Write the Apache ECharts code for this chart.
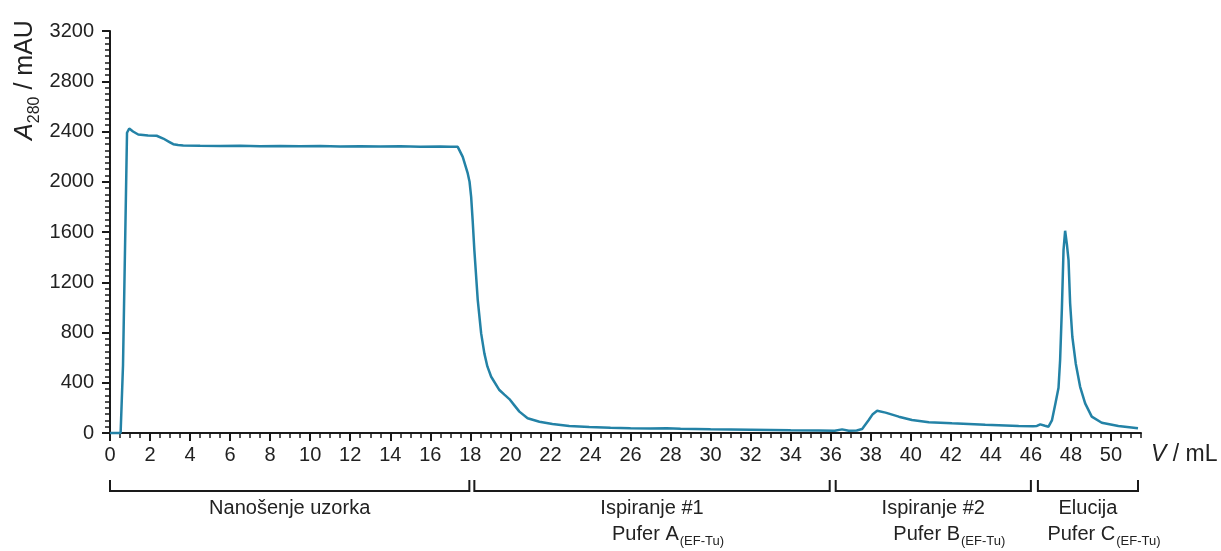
<!DOCTYPE html>
<html>
<head>
<meta charset="utf-8">
<script src="https://cdn.jsdelivr.net/npm/echarts@6/dist/echarts.min.js"></script>
<style>
html,body{margin:0;padding:0;background:#fff;}
#chart{width:1221px;height:551px;}
</style>
</head>
<body>
<div id="chart"></div>
<script>
// ---- data ----
const volume = [0, 0.53, 0.65, 0.85, 0.96, 1.15, 1.41, 1.9, 2.33, 2.66, 2.95, 3.16, 3.4, 3.66, 4.5, 5.5, 6.5, 7.5, 8.5, 9.5, 10.5, 11.5, 12.5, 13.5, 14.5, 15.5, 16.5, 17.0, 17.37, 17.62, 17.87, 17.96, 18.04, 18.12, 18.2, 18.37, 18.54, 18.7, 18.85, 19.04, 19.45, 19.7, 19.95, 20.2, 20.45, 20.86, 21.45, 22.1, 22.94, 23.94, 25, 26, 27, 27.8, 28.5, 30, 32, 34, 35.4, 36.2, 36.57, 36.9, 37.3, 37.57, 37.9, 38.1, 38.32, 38.74, 39.4, 40.06, 40.9, 42.06, 43.72, 45.39, 46.1, 46.3, 46.47, 46.7, 46.88, 47.05, 47.22, 47.38, 47.46, 47.55, 47.63, 47.71, 47.8, 47.88, 47.96, 48.07, 48.24, 48.46, 48.71, 49.04, 49.54, 50.37, 51.35];
const a280 = [0, 0, 540, 2390, 2424, 2400, 2376, 2368, 2366, 2344, 2318, 2299, 2292, 2289, 2286, 2284, 2287, 2283, 2285, 2282, 2284, 2281, 2283, 2280, 2282, 2279, 2280, 2278, 2278, 2198, 2066, 2000, 1880, 1680, 1456, 1058, 793, 634, 530, 448, 342, 305, 270, 220, 170, 117, 90, 72, 56, 48, 42, 38, 36, 38, 34, 30, 26, 22, 20, 18, 29, 18, 20, 32, 103, 150, 177, 162, 130, 103, 85, 77, 66, 56, 54, 56, 69, 58, 50, 100, 230, 360, 581, 1000, 1456, 1610, 1500, 1376, 1032, 766, 554, 368, 236, 130, 82, 56, 37];
const xMajorTicks = [0,2,4,6,8,10,12,14,16,18,20,22,24,26,28,30,32,34,36,38,40,42,44,46,48,50];
const phaseStart = [0, 18.2, 36.25, 46.35];
const phaseEnd = [17.95, 35.95, 46.0, 51.35];
const phaseNames = ['Nanošenje uzorka', 'Ispiranje #1', 'Ispiranje #2', 'Elucija'];
const bufferNames = ['', 'Pufer A', 'Pufer B', 'Pufer C'];
const bufferSub = '(EF-Tu)';

const FONT = "'Liberation Sans', Arial, Helvetica, sans-serif";
const AX = '#1a1a1a';
const TXT = '#222';
const chart = echarts.init(document.getElementById('chart'));

const option = {
  animation: false,
  backgroundColor: '#fff',
  grid: { left: 110, right: 80, top: 31, bottom: 118, containLabel: false },
  xAxis: [
    {
      type: 'value', min: 0, max: 51.5, interval: 2,
      axisLine: { show: true, onZero: false, lineStyle: { color: AX, width: 2 } },
      axisTick: { show: true, customValues: xMajorTicks, length: 8, lineStyle: { color: AX, width: 2 } },
      axisLabel: { customValues: xMajorTicks, fontSize: 20, color: TXT, fontFamily: FONT, margin: 12,
                   formatter: v => String(v) },
      splitLine: { show: false }
    },
    {
      type: 'value', min: 0, max: 51.5, interval: 0.5, position: 'bottom',
      axisLine: { show: false },
      axisTick: { show: true, length: 5, lineStyle: { color: AX, width: 1.5 } },
      axisLabel: { show: false },
      splitLine: { show: false }
    }
  ],
  yAxis: {
    type: 'value', min: 0, max: 3200, interval: 400,
    axisLine: { show: true, lineStyle: { color: AX, width: 2 } },
    axisTick: { show: true, length: 8, lineStyle: { color: AX, width: 2 } },
    minorTick: { show: true, splitNumber: 8, length: 5, lineStyle: { color: AX, width: 1.5 } },
    axisLabel: { fontSize: 20, color: TXT, fontFamily: FONT, margin: 16, formatter: v => String(v) },
    splitLine: { show: false }
  },
  graphic: [
    {
      type: 'text', x: 13, y: 80, rotation: Math.PI / 2,
      style: {
        text: '{a|A}{s|280}{b| / mAU}',
        textAlign: 'center', textVerticalAlign: 'top',
        fontFamily: FONT, fill: TXT,
        rich: {
          a: { fontSize: 25, fontStyle: 'italic', height: 24, verticalAlign: 'top', fontFamily: FONT, fill: TXT },
          s: { fontSize: 16, height: 16, padding: [14, 0, 0, 0], verticalAlign: 'top', fontFamily: FONT, fill: TXT },
          b: { fontSize: 25, height: 24, verticalAlign: 'top', fontFamily: FONT, fill: TXT }
        }
      }
    },
    {
      type: 'text', x: 1151, y: 455,
      style: {
        text: '{v|V}{b| / mL}',
        textAlign: 'left', textVerticalAlign: 'middle',
        fontFamily: FONT, fill: TXT,
        rich: {
          v: { fontSize: 23, fontStyle: 'italic', fontFamily: FONT, fill: TXT },
          b: { fontSize: 23, fontFamily: FONT, fill: TXT }
        }
      }
    }
  ],
  series: [
    {
      type: 'line',
      data: volume.map((v, i) => [v, a280[i]]),
      showSymbol: false,
      symbol: 'none',
      lineStyle: { color: '#2382a6', width: 2.5 },
      itemStyle: { color: '#2382a6' },
      clip: false,
      z: 5
    },
    {
      type: 'custom',
      clip: false,
      silent: true,
      data: phaseStart.map((s, i) => [s, phaseEnd[i], i]),
      encode: { x: [0, 1] },
      renderItem: function (params, api) {
        const i = api.value(2);
        const p1 = api.coord([api.value(0), 0]);
        const p2 = api.coord([api.value(1), 0]);
        const yb = p1[1] + 58;
        const h = 11;
        const cx = (p1[0] + p2[0]) / 2;
        const children = [
          {
            type: 'polyline',
            shape: { points: [[p1[0], yb - h], [p1[0], yb], [p2[0], yb], [p2[0], yb - h]] },
            style: { stroke: AX, lineWidth: 2, fill: null }
          },
          {
            type: 'text',
            x: cx, y: yb + 17,
            style: { text: phaseNames[i], fontSize: 20, fontFamily: FONT, fill: TXT, textAlign: 'center', textVerticalAlign: 'middle' }
          }
        ];
        if (bufferNames[i]) {
          children.push({
            type: 'text',
            x: cx + 16, y: yb + 33,
            style: {
              text: '{a|' + bufferNames[i] + '}{s|' + bufferSub + '}',
              textAlign: 'center', textVerticalAlign: 'top',
              fontFamily: FONT, fill: TXT,
              rich: {
                a: { fontSize: 20, height: 20, verticalAlign: 'top', fontFamily: FONT, fill: TXT },
                s: { fontSize: 13, height: 13, padding: [11, 0, 0, 1], verticalAlign: 'top', fontFamily: FONT, fill: TXT }
              }
            }
          });
        }
        return { type: 'group', children: children };
      },
      z: 3
    }
  ]
};
chart.setOption(option);
</script>
</body>
</html>
